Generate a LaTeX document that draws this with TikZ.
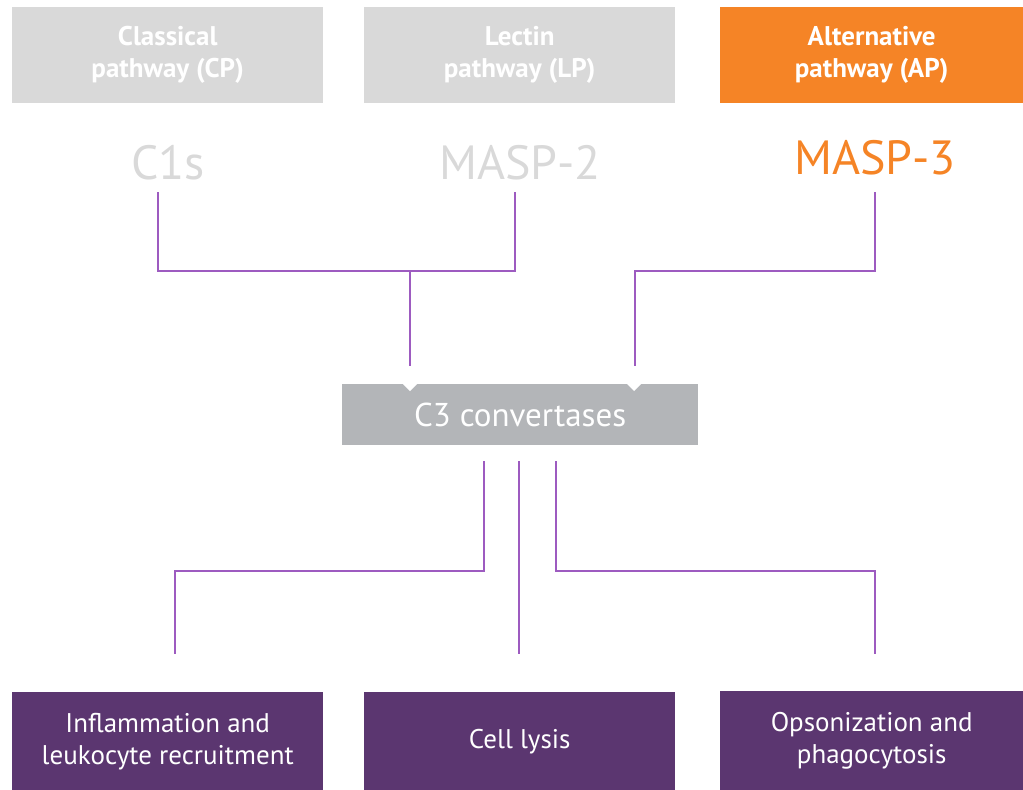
\documentclass[tikz,border=0pt]{standalone}
\usepackage{fontspec}
\setmainfont{PT Sans}
\definecolor{boxgray}{HTML}{D9D9D9}
\definecolor{aporange}{HTML}{F58426}
\definecolor{c3gray}{HTML}{B3B5B8}
\definecolor{outpurple}{HTML}{5B3670}
\definecolor{linepurple}{HTML}{9D5BC0}
\begin{document}
\begin{tikzpicture}[x=1pt,y=-1pt,
  pbox/.style={fill=boxgray, minimum width=311pt, minimum height=96pt, anchor=north west, inner sep=0pt, text=white, font=\fontsize{27}{32}\selectfont\bfseries, align=center},
  enz/.style={text=boxgray, font=\fontsize{48}{50}\selectfont, inner sep=0pt},
  obox/.style={fill=outpurple, minimum width=311pt, minimum height=98pt, anchor=north west, inner sep=0pt, text=white, font=\fontsize{27}{32}\selectfont, align=center},
  conn/.style={draw=linepurple, line width=1.6pt}]
\useasboundingbox (0,0) rectangle (1023,790);
% top pathway boxes
\node[pbox] (cp) at (12,7) {Classical\\pathway (CP)};
\node[pbox] (lp) at (364,7) {Lectin\\pathway (LP)};
\node[pbox, fill=aporange, minimum width=303pt] (ap) at (720,7) {Alternative\\pathway (AP)};
% enzymes
\node[enz] (c1s) at (168,163) {C1s};
\node[enz] (masp2) at (520,163) {MASP-2};
\node[enz, text=aporange] (masp3) at (875,158) {MASP-3};
% C3 box
\node[fill=c3gray, minimum width=356pt, minimum height=61pt, anchor=north west, inner sep=0pt, text=white, font=\fontsize{33}{36}\selectfont] (c3) at (342,384) {C3 convertases};
\fill[white] (403,384) -- (417,384) -- (410,391) -- cycle;
\fill[white] (627,384) -- (641,384) -- (634,391) -- cycle;
% connector coordinates
\coordinate (a1) at (158,192);
\coordinate (a2) at (515,192);
\coordinate (a3) at (875,192);
\coordinate (m1) at (410,366);
\coordinate (m2) at (635,366);
\coordinate (b1) at (484,461);
\coordinate (b2) at (519,461);
\coordinate (b3) at (556,461);
\coordinate (e1) at (175,654);
\coordinate (e2) at (519,654);
\coordinate (e3) at (875,654);
\draw[conn] (a1) |- (515,271) -- (a2);
\draw[conn] (410,271) -- (m1);
\draw[conn] (a3) |- (635,271) -- (m2);
\draw[conn] (b1) |- (175,571) -- (e1);
\draw[conn] (b2) -- (e2);
\draw[conn] (b3) |- (875,571) -- (e3);
% outcome boxes
\node[obox] (o1) at (12,692) {Inflammation and\\leukocyte recruitment};
\node[obox] (o2) at (364,692) {Cell lysis};
\node[obox, minimum width=303pt, minimum height=99pt] (o3) at (720,691) {Opsonization and\\phagocytosis};
\end{tikzpicture}
\end{document}
